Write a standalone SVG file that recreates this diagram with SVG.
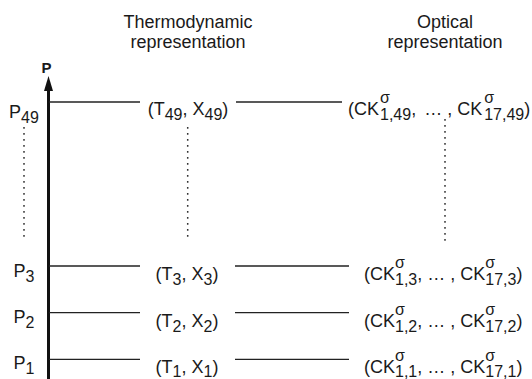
<svg xmlns="http://www.w3.org/2000/svg" width="532" height="379" viewBox="0 0 532 379">
<style>
text{font-family:"Liberation Sans",Arial,sans-serif;fill:#1a1a1a}
.h{font-size:18px;text-anchor:middle}
.m{font-size:18px}
.c{text-anchor:middle}
.s{font-size:16px}
.sg{font-size:16px}
.ln{stroke:#222;stroke-width:1.3;fill:none}
.dot{stroke:#333;stroke-width:1.5;stroke-dasharray:1.8 4.2;fill:none}
</style>
<g id="headers">
<text class="h" x="188" y="28">Thermodynamic</text>
<text class="h" x="188" y="47.5">representation</text>
<text class="h" x="445" y="28">Optical</text>
<text class="h" x="445" y="47.5">representation</text>
</g>
<g id="axis">
<line x1="48.5" y1="89" x2="48.5" y2="379" stroke="#111" stroke-width="3"/>
<polygon points="48.5,76 53,91 44,91" fill="#111"/>
<text x="46.5" y="72.5" font-size="15" font-weight="bold" text-anchor="middle">P</text>
</g>
<g id="connectors">
<line class="ln" x1="49" y1="102" x2="140" y2="102"/>
<line class="ln" x1="236" y1="102" x2="342" y2="102"/>
<line class="ln" x1="49" y1="266" x2="140" y2="266"/>
<line class="ln" x1="235" y1="266" x2="349" y2="266"/>
<line class="ln" x1="49" y1="312.7" x2="140" y2="312.7"/>
<line class="ln" x1="235" y1="312.7" x2="349" y2="312.7"/>
<line class="ln" x1="49" y1="359.3" x2="140" y2="359.3"/>
<line class="ln" x1="235" y1="359.3" x2="349" y2="359.3"/>
<line class="dot" x1="24" y1="127" x2="24" y2="241"/>
<line class="dot" x1="187.7" y1="127" x2="187.7" y2="241"/>
<line class="dot" x1="445" y1="119" x2="445" y2="241"/>
</g>
<g id="row49">
<text class="m c" x="24" y="118">P<tspan class="s" dy="5">49</tspan></text>
<text class="m c" x="188" y="115">(T<tspan class="s" dy="5">49</tspan><tspan dy="-5">, X</tspan><tspan class="s" dy="5">49</tspan><tspan dy="-5">)</tspan></text>
<text class="m" x="348" y="115">(CK<tspan class="s" dx="1" dy="5">1,49</tspan><tspan dy="-5">,</tspan><tspan dx="3"> … , CK</tspan><tspan class="s" dx="2" dy="5">17,49</tspan><tspan dy="-5">)</tspan></text>
<text class="sg" x="380" y="103">σ</text>
<text class="sg" x="484.2" y="103">σ</text>
</g>
<g id="row3">
<text class="m c" x="24" y="277">P<tspan class="s" dy="5">3</tspan></text>
<text class="m c" x="187" y="280">(T<tspan class="s" dy="5">3</tspan><tspan dy="-5">, X</tspan><tspan class="s" dy="5">3</tspan><tspan dy="-5">)</tspan></text>
<text class="m" x="364" y="280">(CK<tspan class="s" dy="5">1,3</tspan><tspan dy="-5">, … , CK</tspan><tspan class="s" dy="5">17,3</tspan><tspan dy="-5">)</tspan></text>
<text class="sg" x="395" y="268">σ</text>
<text class="sg" x="485.3" y="268">σ</text>
</g>
<g id="row2">
<text class="m c" x="24" y="322.5">P<tspan class="s" dy="5">2</tspan></text>
<text class="m c" x="187" y="326.8">(T<tspan class="s" dy="5">2</tspan><tspan dy="-5">, X</tspan><tspan class="s" dy="5">2</tspan><tspan dy="-5">)</tspan></text>
<text class="m" x="364" y="326.8">(CK<tspan class="s" dy="5">1,2</tspan><tspan dy="-5">, … , CK</tspan><tspan class="s" dy="5">17,2</tspan><tspan dy="-5">)</tspan></text>
<text class="sg" x="395" y="314.8">σ</text>
<text class="sg" x="485.3" y="314.8">σ</text>
</g>
<g id="row1">
<text class="m c" x="24" y="369">P<tspan class="s" dy="4.5">1</tspan></text>
<text class="m c" x="187" y="372.5">(T<tspan class="s" dy="4.5">1</tspan><tspan dy="-4.5">, X</tspan><tspan class="s" dy="4.5">1</tspan><tspan dy="-4.5">)</tspan></text>
<text class="m" x="364" y="372.5">(CK<tspan class="s" dy="4.5">1,1</tspan><tspan dy="-4.5">, … , CK</tspan><tspan class="s" dy="4.5">17,1</tspan><tspan dy="-4.5">)</tspan></text>
<text class="sg" x="395" y="360.5">σ</text>
<text class="sg" x="485.3" y="360.5">σ</text>
</g>
</svg>
